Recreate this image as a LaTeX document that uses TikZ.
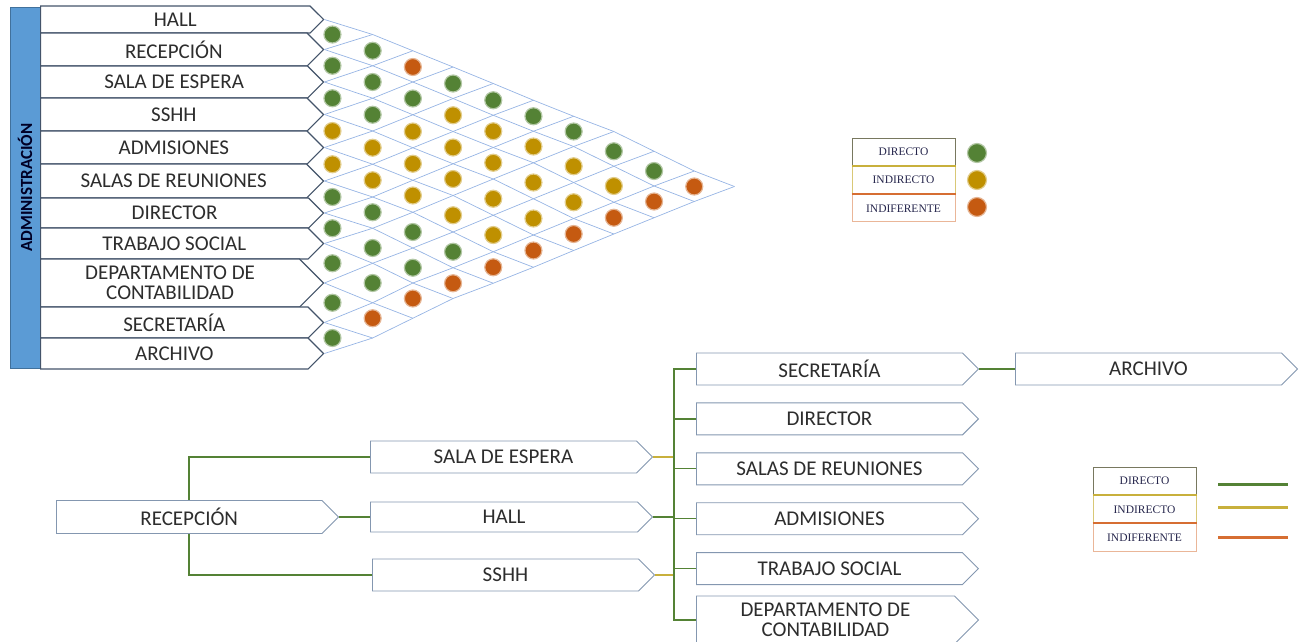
\documentclass[tikz,border=0pt]{standalone}
\usepackage{fontspec}
\setmainfont{Carlito}
\newfontfamily\legfont{Liberation Serif}
\usepackage{tikz}
\usetikzlibrary{positioning, shapes.symbols, calc}

\definecolor{relg}{RGB}{84,130,53}
\definecolor{rely}{RGB}{191,144,0}
\definecolor{relo}{RGB}{197,90,17}
\definecolor{liney}{RGB}{200,176,60}
\definecolor{lineo}{RGB}{214,110,50}
\definecolor{gridblue}{RGB}{150,180,228}
\definecolor{boxedge}{RGB}{68,84,106}
\definecolor{boxedgelt}{RGB}{132,151,176}
\definecolor{barblue}{RGB}{91,155,213}
\definecolor{bardark}{RGB}{65,113,156}
\definecolor{txt}{RGB}{45,45,45}
\definecolor{legdk}{RGB}{120,120,95}

\begin{document}
\begin{tikzpicture}[x=1pt, y=-1pt,
    rowbox/.style={signal, signal to=east, draw=boxedge, line width=1.2pt, fill=white, anchor=west,
        minimum width=283, text=txt, font=\fontsize{21}{20}\selectfont, align=center, inner sep=0pt},
    treebox/.style={rowbox, draw=boxedgelt, line width=0.9pt, minimum width=282, minimum height=32},
    adminbar/.style={rectangle, draw=bardark, fill=barblue, minimum width=361, minimum height=30,
        inner sep=0pt, text=black!85!blue, font=\bfseries\fontsize{17}{17}\selectfont},
    gridline/.style={draw=gridblue, line width=0.7pt},
    reldot/.style={circle, inner sep=0pt, minimum size=17, line width=1.2pt},
    legcell/.style={rectangle, minimum width=103, minimum height=27.3, inner sep=0pt, line width=1pt,
        text=txt!85!blue, font=\legfont\fontsize{11.5}{11.5}\selectfont},
    sepline/.style={line width=2pt},
    keyline/.style={line width=3pt},
    linkg/.style={draw=relg, line width=1.2pt},
    linky/.style={draw=liney, line width=1.2pt}]
\useasboundingbox (0,0) rectangle (1301,641);

% matriz de relaciones
\node[adminbar, rotate=90] (admin) at (25,187.5) {ADMINISTRACIÓN};
\node[rowbox, minimum height=27] (row1) at (40,19.5) {HALL};
\node[rowbox, minimum height=33] (row2) at (40,49.5) {RECEPCIÓN};
\node[rowbox, minimum height=32] (row3) at (40,82) {SALA DE ESPERA};
\node[rowbox, minimum height=33] (row4) at (40,114.5) {SSHH};
\node[rowbox, minimum height=33] (row5) at (40,147.5) {ADMISIONES};
\node[rowbox, minimum height=34] (row6) at (40,181) {SALAS DE REUNIONES};
\node[rowbox, minimum height=30] (row7) at (40,213) {DIRECTOR};
\node[rowbox, minimum height=31] (row8) at (40,243.5) {TRABAJO SOCIAL};
\node[rowbox, minimum height=48] (row9) at (40,283) {DEPARTAMENTO DE\\CONTABILIDAD};
\node[rowbox, minimum height=31] (row10) at (40,322.5) {SECRETARÍA};
\node[rowbox, minimum height=31] (row11) at (40,353.5) {ARCHIVO};

\foreach \i in {1,...,11}
    \foreach \j in {\i,...,11}
        \coordinate (v-\i-\j) at ($(row\i.east)!0.5!(row\j.east) + ({(\j-\i)*40.2+8*min(\j-\i,1)},0)$);

\foreach \i in {1,...,11} {
    \draw[gridline] (v-\i-\i) \foreach \j in {\i,...,11} {-- (v-\i-\j)};
    \draw[gridline] (v-\i-\i) \foreach \k in {\i,...,1} {-- (v-\k-\i)};
}

\foreach \i/\rel in {1/{g,g,o,g,g,g,g,g,g,o}, 2/{g,g,g,y,y,y,y,y,o}, 3/{g,g,y,y,y,y,y,o},
        4/{y,y,y,y,y,y,o}, 5/{y,y,y,y,y,o}, 6/{g,g,g,g,o}, 7/{g,g,g,o}, 8/{g,g,o}, 9/{g,o}, 10/{g}}
    \foreach \c [count=\k] in \rel {
        \pgfmathtruncatemacro\j{\i+\k}
        \node[reldot, fill=rel\c, draw=rel\c!45] (d-\i-\j) at ($(row\i.east)!0.5!(row\j.east) + ({8+(\k-1)*40.2},0)$) {};
    }

% leyenda de la matriz
\node[legcell, draw=legdk] (lgd1) at (903.5,151.7) {DIRECTO};
\node[legcell, draw=liney!70, below=0pt of lgd1] (lgi1) {INDIRECTO};
\node[legcell, draw=lineo!50, below=0pt of lgi1] (lgx1) {INDIFERENTE};
\draw[sepline, draw=liney] (lgd1.south west) -- (lgd1.south east);
\draw[sepline, draw=lineo] (lgi1.south west) -- (lgi1.south east);
\node[reldot, minimum size=19, fill=relg, draw=relg!45] (kd1) at (977,153) {};
\node[reldot, minimum size=19, fill=rely, draw=rely!45] (kd2) at (977,180) {};
\node[reldot, minimum size=19, fill=relo, draw=relo!45] (kd3) at (977,207) {};

% diagrama de flujo
\node[treebox, minimum height=33] (recep) at (56,517) {RECEPCIÓN};
\node[treebox] (sala) at (370,457) {SALA DE ESPERA};
\node[treebox, minimum height=30] (hall) at (370,517) {HALL};
\node[treebox] (sshh) at (372,575) {SSHH};
\node[treebox] (secr) at (696,369) {SECRETARÍA};
\node[treebox, below=17pt of secr] (dir) {DIRECTOR};
\node[treebox, below=17pt of dir] (reun) {SALAS DE REUNIONES};
\node[treebox, below=17pt of reun] (adm) {ADMISIONES};
\node[treebox, below=17pt of adm] (trab) {TRABAJO SOCIAL};
\node[treebox, minimum height=48] (cont) at (696,620) {DEPARTAMENTO DE\\CONTABILIDAD};
\node[treebox] (arch) at (1015,369) {ARCHIVO};

\coordinate (fork) at (189,517);
\coordinate (bus) at (674,517);
\draw[linkg] (sala.west) -| (recep.north -| fork);
\draw[linkg] (sshh.west) -| (recep.south -| fork);
\draw[linkg] (recep.east) -- (hall.west);
\draw[linky] (sala.east) -- (sala.east -| bus);
\draw[linkg] (hall.east) -- (hall.east -| bus);
\draw[linky] (sshh.east) -- (sshh.east -| bus);
\draw[linkg] (secr.west) -| (cont.west -| bus) -- (cont.west);
\foreach \n in {dir, reun, adm, trab}
    \draw[linkg] (\n.west -| bus) -- (\n.west);
\draw[linkg] (secr.east) -- (arch.west);

% leyenda del diagrama
\node[legcell, draw=legdk] (lgd2) at (1144.5,481) {DIRECTO};
\node[legcell, draw=liney!70, below=0pt of lgd2] (lgi2) {INDIRECTO};
\node[legcell, draw=lineo!50, below=0pt of lgi2] (lgx2) {INDIFERENTE};
\draw[sepline, draw=liney] (lgd2.south west) -- (lgd2.south east);
\draw[sepline, draw=lineo] (lgi2.south west) -- (lgi2.south east);
\foreach \c/\y [count=\n] in {relg/484, liney/507, lineo/537} {
    \coordinate (ks\n) at (1218,\y);
    \coordinate (ke\n) at (1288,\y);
    \draw[keyline, draw=\c] (ks\n) -- (ke\n);
}
\end{tikzpicture}
\end{document}
